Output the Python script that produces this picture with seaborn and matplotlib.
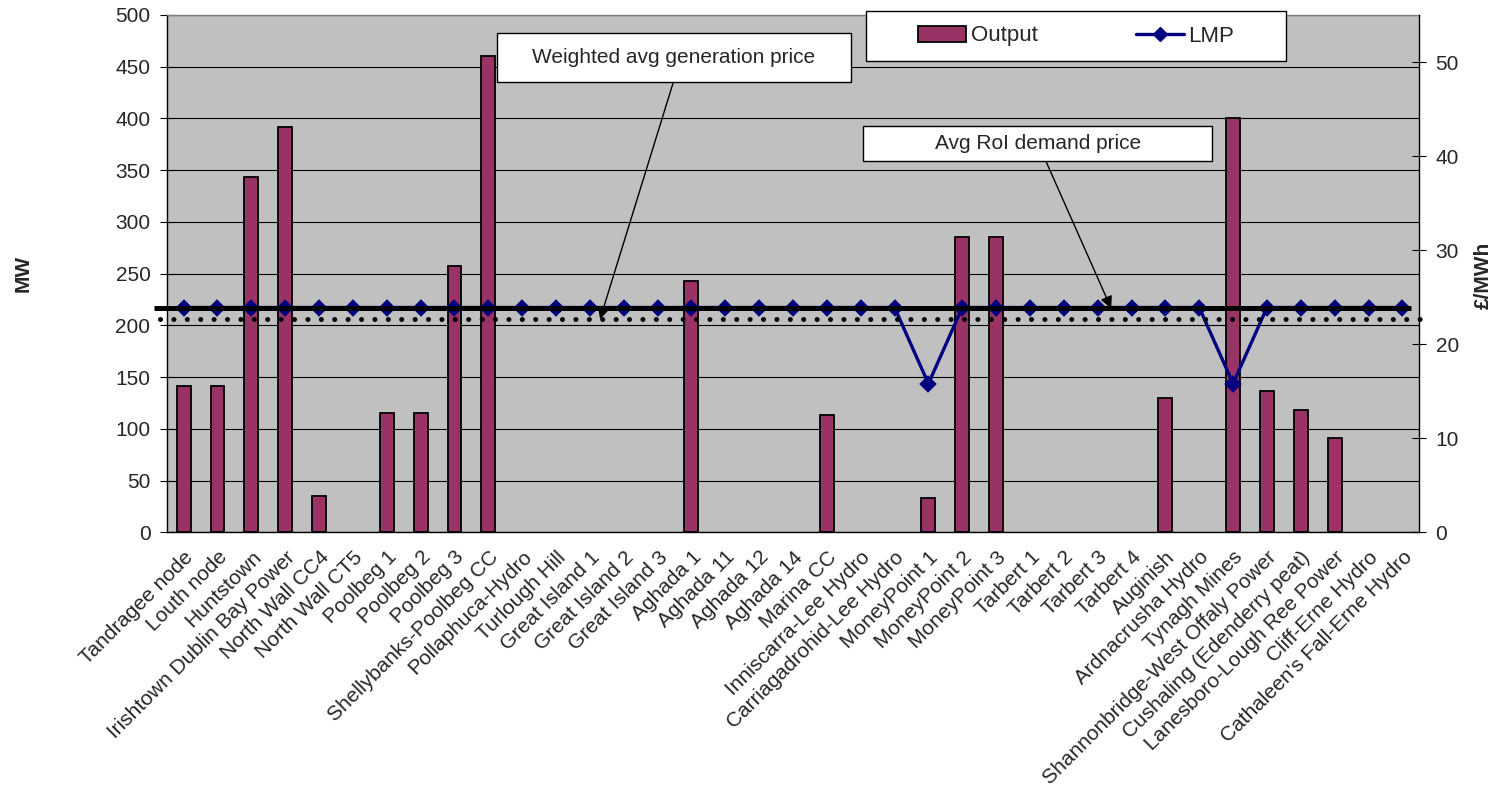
import numpy as np
import pandas as pd
import matplotlib
matplotlib.use("Agg")
import matplotlib.pyplot as plt
import matplotlib.transforms as mtransforms
from matplotlib.patches import Rectangle, Patch
from matplotlib.lines import Line2D
import seaborn as sns

# ---- data -----------------------------------------------------------------
stations = [
    "Tandragee node", "Louth node", "Huntstown", "Irishtown Dublin Bay Power",
    "North Wall CC4", "North Wall CT5", "Poolbeg 1", "Poolbeg 2", "Poolbeg 3",
    "Shellybanks-Poolbeg CC", "Pollaphuca-Hydro", "Turlough Hill",
    "Great Island 1", "Great Island 2", "Great Island 3", "Aghada 1",
    "Aghada 11", "Aghada 12", "Aghada 14", "Marina CC", "Inniscarra-Lee Hydro",
    "Carriagadrohid-Lee Hydro", "MoneyPoint 1", "MoneyPoint 2", "MoneyPoint 3",
    "Tarbert 1", "Tarbert 2", "Tarbert 3", "Tarbert 4", "Auginish",
    "Ardnacrusha Hydro", "Tynagh Mines", "Shannonbridge-West Offaly Power",
    "Cushaling (Edenderry peat)", "Lanesboro-Lough Ree Power",
    "Cliff-Erne Hydro", "Cathaleen's Fall-Erne Hydro",
]
output_mw = [
    141, 141, 343, 392, 35, 0, 115, 115, 257, 460, 0, 0, 0, 0, 0, 243,
    0, 0, 0, 113, 0, 0, 33, 285, 285, 0, 0, 0, 0, 130, 0, 400, 137, 118,
    91, 0, 0,
]
lmp = [
    23.9, 23.9, 23.9, 23.9, 23.9, 23.9, 23.9, 23.9, 23.9, 23.9, 23.9, 23.9,
    23.9, 23.9, 23.9, 23.9, 23.9, 23.9, 23.9, 23.9, 23.9, 23.9, 15.8, 23.9,
    23.9, 23.9, 23.9, 23.9, 23.9, 23.9, 23.9, 15.8, 23.9, 23.9, 23.9, 23.9,
    23.9,
]
avg_roi_demand_price = 23.8
weighted_avg_gen_price = 22.66

mw_ticks = list(range(0, 501, 50))
price_ticks = list(range(0, 51, 10))

BAR_COLOR = "#993366"
LMP_COLOR = "#000080"
PLOT_BG = "#C0C0C0"

# ---- figure ---------------------------------------------------------------
sns.set_theme(style="white")
plt.rcParams["font.family"] = ["Liberation Sans", "DejaVu Sans"]

W, H = 1495, 797
fig = plt.figure(figsize=(W / 100, H / 100), dpi=100)
left_px, right_px, top_px, bottom_px = 166.7, 1419.3, 15.0, 532.3
ax = fig.add_axes([left_px / W, 1 - bottom_px / H,
                   (right_px - left_px) / W, (bottom_px - top_px) / H])
ax.set_facecolor(PLOT_BG)

df = pd.DataFrame({"station": stations, "output": output_mw, "lmp": lmp})

sns.barplot(data=df, x="station", y="output", order=stations,
            color=BAR_COLOR, saturation=1, width=0.41,
            edgecolor="black", linewidth=1.3, ax=ax, zorder=2)
# units with no output get no visible bar outline
for bar in ax.patches:
    if bar.get_height() == 0:
        bar.set_visible(False)

ax.set_axisbelow(True)
ax.yaxis.grid(True, color="black", linewidth=0.8)
ax.set_ylim(0, 500)
ax.set_yticks(mw_ticks)
ax.set_ylabel("")
ax.set_xlabel("")

ax2 = ax.twinx()
sns.pointplot(data=df, x="station", y="lmp", order=stations,
              color=LMP_COLOR, markers="D", markersize=7, linewidth=2.4,
              errorbar=None, ax=ax2, zorder=3)
ax2.set_ylim(0, 55)
ax2.set_yticks(price_ticks)
ax2.set_ylabel("")
ax2.set_xlabel("")

# category axis: labels at centres, tick marks on the boundaries
n = len(stations)
ax.set_xlim(-0.5, n - 0.5)
ax.set_xticks(np.arange(n))
ax.set_xticklabels(stations, rotation=45, ha="right",
                   rotation_mode="anchor", fontsize=15)
ax.set_xticks(np.arange(-0.5, n), minor=True)
ax.tick_params(axis="x", which="major", length=0, pad=11)
ax.tick_params(axis="x", which="minor", direction="out", length=4.5,
               width=0.8, color="black")
ax.tick_params(axis="y", direction="inout", length=9.4, width=0.8,
               color="black", labelsize=15, pad=7, left=True)
ax2.tick_params(axis="y", direction="inout", length=9.4, width=0.8,
                color="black", labelsize=15, pad=7, right=True)

for name, sp in ax.spines.items():
    sp.set_visible(name in ("left", "bottom", "top"))
    sp.set_color("#808080" if name == "top" else "black")
    sp.set_linewidth(1.0)
for name, sp in ax2.spines.items():
    sp.set_visible(name == "right")
    sp.set_color("black")
    sp.set_linewidth(1.0)

# reference price levels
trans = mtransforms.blended_transform_factory(ax2.transAxes, ax2.transData)
ax2.plot([-0.0101, 0.9934], [avg_roi_demand_price] * 2, transform=trans,
         color="black", linewidth=3.6, solid_capstyle="butt",
         clip_on=False, zorder=5)
ax2.plot([-0.0053, 1.0059], [weighted_avg_gen_price] * 2, transform=trans,
         color="black", linewidth=3.6, linestyle=(0, (0.01, 2.67)),
         dash_capstyle="round", clip_on=False, zorder=5)

# callout boxes with arrows
def callout(text, box_px, arrow_from_px, tip_xy):
    x0, y0, x1, y1 = box_px
    fig.add_artist(Rectangle((x0 / W, 1 - y1 / H), (x1 - x0) / W,
                             (y1 - y0) / H, transform=fig.transFigure,
                             facecolor="white", edgecolor="black",
                             linewidth=1.0, zorder=5))
    fig.text((x0 + x1) / 2 / W, 1 - (y0 + y1) / 2 / H, text, ha="center",
             va="center", fontsize=15, zorder=6)
    ax2.annotate("", xy=tip_xy, xycoords="data",
                 xytext=(arrow_from_px[0] / W, 1 - arrow_from_px[1] / H),
                 textcoords="figure fraction",
                 arrowprops=dict(arrowstyle="-|>", color="black", lw=1.0,
                                 mutation_scale=18, shrinkA=0, shrinkB=0),
                 zorder=6)

callout("Weighted avg generation price", (497, 33.3, 851, 82.3),
        (673.3, 82.3), (12.3, weighted_avg_gen_price))
callout("Avg RoI demand price", (863.3, 125.7, 1212, 160.7),
        (1045.7, 160.7), (27.4, avg_roi_demand_price))

# legend in its own framed box
fig.add_artist(Rectangle((866 / W, 1 - 61.3 / H), (1286 - 866) / W,
                         (61.3 - 10.7) / H, transform=fig.transFigure,
                         facecolor="white", edgecolor="black",
                         linewidth=1.0, zorder=5))
handles = [
    Patch(facecolor=BAR_COLOR, edgecolor="black", linewidth=1.3),
    Line2D([], [], color=LMP_COLOR, linewidth=2.4, marker="D", markersize=7),
]
leg = fig.legend(handles, ["Output", "LMP"], loc="center left",
                 bbox_to_anchor=(918 / W, 1 - 36 / H), ncol=2,
                 frameon=False, fontsize=16, handlelength=2.16,
                 handletextpad=0.22, columnspacing=4.4, borderpad=0,
                 borderaxespad=0)
leg.set_zorder(7)

# axis titles
fig.text(23 / W, 1 - 273 / H, "MW", rotation=90, fontweight="bold",
         fontsize=15, ha="center", va="center")
fig.text(1483 / W, 1 - 275 / H, "£/MWh", rotation=90, fontweight="bold",
         fontsize=15, ha="center", va="center")

fig.savefig("out.png", dpi=100, facecolor="white")
